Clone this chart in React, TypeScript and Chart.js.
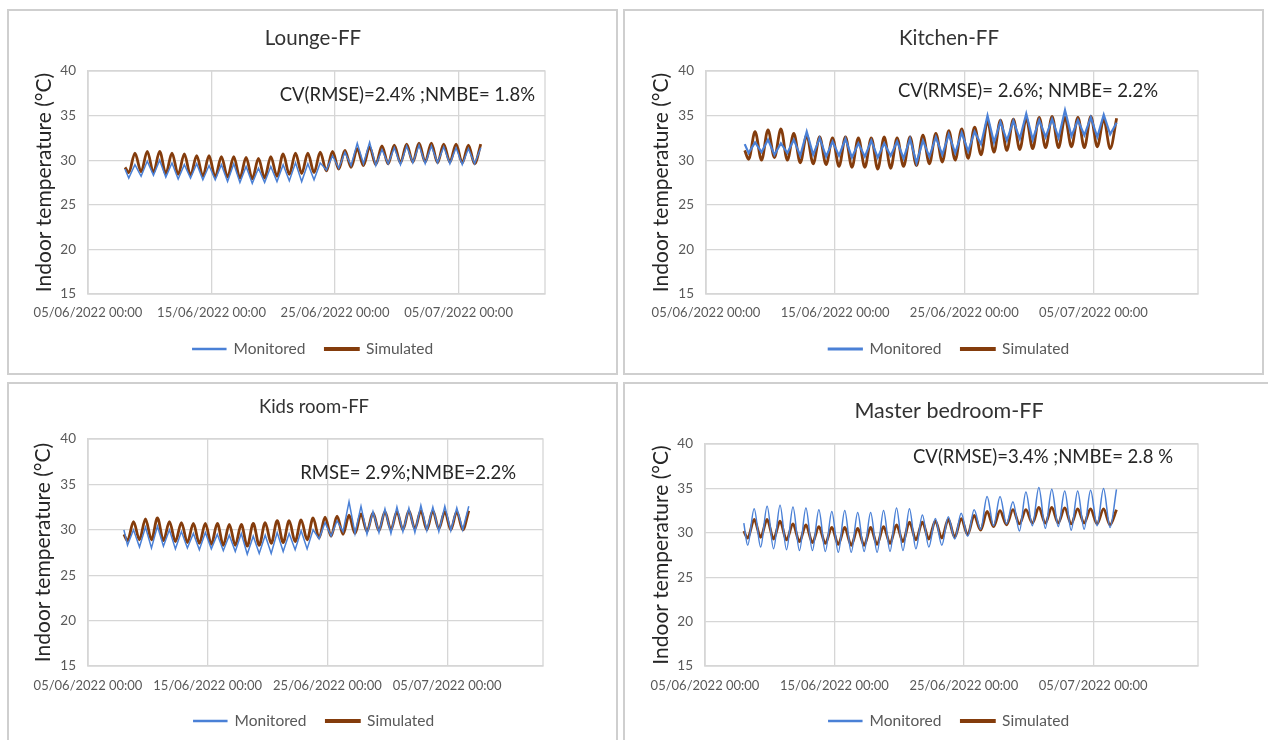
import React, { useEffect, useRef } from "react";
import { Chart, registerables } from "chart.js";

Chart.register(...registerables);

// ---------- shared axis data ----------
const xTickDays = [0, 10, 20, 30];
const xTickLabels = ["05/06/2022 00:00", "15/06/2022 00:00", "25/06/2022 00:00", "05/07/2022 00:00"];
const yTicks = [15, 20, 25, 30, 35, 40];
const firstDay = 3; // 08/06/2022, days since 05/06/2022
const troughHour = 0.3; // fraction of day of daily minimum
const peakHour = 0.8; // fraction of day of daily maximum
const seriesNames = ["Monitored", "Simulated"];

// ---------- Lounge-FF (daily minima / maxima, 08/06 .. 06/07) ----------
const loungeMonStart = 29.0;
const loungeMonMin = [28.0, 28.2, 28.3, 28.1, 27.9, 28.0, 27.8, 27.8, 27.6, 27.5, 27.4, 27.5, 27.6, 27.7, 27.6, 27.8, 28.9, 29.1, 29.4, 29.6, 29.4, 29.6, 29.5, 29.7, 29.6, 29.7, 29.6, 29.5, 29.6];
const loungeMonMax = [29.5, 29.9, 30.0, 29.7, 29.5, 29.6, 29.4, 29.5, 29.6, 29.3, 29.1, 29.3, 29.5, 29.7, 29.6, 29.7, 30.5, 30.9, 31.9, 32.0, 31.2, 31.4, 31.6, 31.7, 31.6, 31.5, 31.4, 31.3, 31.4];
const loungeSimStart = 29.2;
const loungeSimMin = [28.6, 28.7, 28.6, 28.5, 28.4, 28.3, 28.2, 28.1, 28.1, 28.0, 27.9, 28.0, 28.2, 28.4, 28.5, 28.6, 28.8, 29.0, 29.2, 29.4, 29.5, 29.6, 29.7, 29.8, 29.8, 29.7, 29.8, 29.7, 29.6];
const loungeSimMax = [30.8, 31.0, 31.0, 30.8, 30.7, 30.5, 30.5, 30.4, 30.4, 30.3, 30.2, 30.4, 30.7, 30.8, 30.8, 30.9, 31.0, 31.1, 31.3, 31.5, 31.6, 31.7, 31.8, 31.9, 31.9, 31.8, 31.8, 31.7, 31.8];

// ---------- Kitchen-FF ----------
const kitchenMonStart = 31.8;
const kitchenMonMin = [30.8, 30.9, 30.6, 30.8, 30.5, 30.6, 30.4, 30.5, 30.3, 30.4, 30.3, 30.5, 30.2, 29.7, 30.4, 30.6, 30.8, 31.0, 31.8, 32.0, 32.2, 32.4, 32.3, 32.6, 32.5, 32.7, 32.8, 32.6, 32.9];
const kitchenMonMax = [32.0, 32.3, 31.9, 32.3, 33.2, 32.5, 32.1, 32.4, 31.9, 32.2, 31.9, 32.1, 32.4, 32.2, 32.6, 32.9, 33.1, 33.2, 35.0, 34.3, 34.4, 35.2, 34.5, 34.6, 35.6, 34.5, 34.8, 35.1, 34.2];
const kitchenSimStart = 31.1;
const kitchenSimMin = [30.1, 30.0, 30.3, 30.0, 29.7, 29.6, 29.5, 29.3, 29.2, 29.2, 29.0, 29.1, 29.3, 29.4, 29.6, 29.8, 30.0, 30.2, 30.6, 30.9, 31.1, 31.2, 31.3, 31.4, 31.4, 31.5, 31.4, 31.5, 31.3];
const kitchenSimMax = [33.2, 33.4, 33.5, 33.0, 32.8, 32.6, 32.5, 32.6, 32.5, 32.5, 32.6, 32.5, 32.6, 32.8, 33.0, 33.3, 33.5, 33.7, 34.4, 34.5, 34.6, 34.7, 34.8, 34.9, 34.8, 34.8, 34.9, 34.6, 34.7];

// ---------- Kids room-FF ----------
const kidsMonStart = 30.0;
const kidsMonMin = [28.3, 28.1, 28.0, 28.2, 27.9, 28.0, 27.8, 27.9, 27.7, 27.6, 27.3, 27.4, 27.4, 27.6, 27.8, 27.9, 29.0, 29.3, 29.8, 29.6, 29.5, 29.7, 29.6, 29.8, 29.7, 29.9, 29.8, 29.9, 30.0];
const kidsMonMax = [30.0, 30.3, 30.4, 30.0, 29.8, 29.6, 29.7, 29.5, 29.4, 29.6, 29.3, 29.4, 29.7, 29.6, 29.9, 30.0, 30.8, 31.0, 33.1, 32.6, 32.0, 32.3, 32.5, 32.4, 32.7, 32.5, 32.6, 32.4, 32.6];
const kidsSimStart = 29.5;
const kidsSimMin = [28.8, 28.9, 28.9, 28.8, 28.7, 28.6, 28.5, 28.4, 28.3, 28.3, 28.2, 28.3, 28.5, 28.6, 28.7, 28.9, 29.1, 29.3, 29.5, 29.6, 29.8, 29.9, 30.0, 30.0, 30.1, 30.0, 30.1, 30.0, 30.0];
const kidsSimMax = [30.9, 31.2, 31.3, 30.9, 30.8, 30.7, 30.7, 30.7, 30.6, 30.6, 30.7, 30.8, 31.0, 31.0, 31.1, 31.3, 31.4, 31.5, 31.6, 31.75, 31.85, 32.0, 32.0, 32.1, 32.1, 32.1, 32.0, 32.0, 32.1];

// ---------- Master bedroom-FF ----------
const masterMonStart = 31.1;
const masterMonMin = [28.6, 28.4, 28.2, 28.1, 28.0, 28.0, 27.9, 27.8, 27.8, 27.9, 27.8, 27.9, 28.0, 28.2, 28.4, 28.6, 29.3, 29.6, 30.4, 30.8, 31.0, 30.2, 30.8, 30.5, 30.7, 30.3, 30.4, 30.8, 30.6];
const masterMonMax = [32.7, 33.0, 33.1, 32.9, 32.8, 32.6, 32.4, 32.5, 32.3, 32.3, 32.5, 32.8, 32.7, 32.0, 31.6, 31.8, 32.2, 32.6, 34.1, 34.1, 33.5, 34.6, 35.1, 34.9, 34.7, 34.7, 34.8, 35.0, 34.9];
const masterSimStart = 30.2;
const masterSimMin = [29.4, 29.5, 29.3, 29.2, 29.0, 28.9, 28.8, 28.7, 28.6, 28.6, 28.7, 28.8, 29.0, 29.2, 29.3, 29.4, 29.5, 29.8, 30.3, 30.7, 30.9, 31.0, 31.1, 31.1, 31.1, 31.0, 31.1, 31.0, 30.9];
const masterSimMax = [31.5, 31.5, 31.3, 31.0, 30.9, 30.7, 30.6, 30.6, 30.5, 30.6, 30.7, 30.9, 31.2, 31.2, 31.35, 31.5, 31.6, 31.95, 32.4, 32.5, 32.6, 32.6, 32.85, 32.85, 32.8, 32.7, 32.7, 32.7, 32.6];

const FONT = "Lato, 'Open Sans', sans-serif";
const BLUE = "#4a80d6";
const BROWN = "#843c0c";
const GRID = "#d6d6d6";

function buildSeries(start: number, mins: number[], maxs: number[]) {
  const pts: { x: number; y: number }[] = [{ x: firstDay, y: start }];
  for (let i = 0; i < mins.length; i++) {
    pts.push({ x: firstDay + i + troughHour, y: mins[i] });
    pts.push({ x: firstDay + i + peakHour, y: maxs[i] });
  }
  return pts;
}

type PanelCfg = {
  title: string;
  titleSize: number;
  note: string;
  mon: { x: number; y: number }[];
  sim: { x: number; y: number }[];
  monWidth: number;
  monSmooth: boolean;
  xMax: number;
  box: { x: number; y: number; w: number; h: number };
  pad: { l: number; r: number; b: number };
  yW: number;
  rW: number;
  yTitlePad: number;
  titlePad: { top: number; bottom: number };
  xH: number;
  xTickPad: number;
  noteOff: { r: number; t: number };
};

const panels: PanelCfg[] = [
  {
    title: "Lounge-FF",
    titleSize: 20.5,
    note: "CV(RMSE)=2.4% ;NMBE= 1.8%",
    mon: buildSeries(loungeMonStart, loungeMonMin, loungeMonMax),
    sim: buildSeries(loungeSimStart, loungeSimMin, loungeSimMax),
    monWidth: 1.5,
    monSmooth: false,
    xMax: 37,
    box: { x: 7, y: 9, w: 611, h: 366 },
    pad: { l: 1, r: 0, b: 6.25 },
    yW: 78,
    rW: 71,
    yTitlePad: 21.4,
    titlePad: { top: 14.7, bottom: 20.7 },
    xH: 27.25,
    xTickPad: 11,
    noteOff: { r: 10, t: 24 },
  },
  {
    title: "Kitchen-FF",
    titleSize: 20.5,
    note: "CV(RMSE)= 2.6%; NMBE= 2.2%",
    mon: buildSeries(kitchenMonStart, kitchenMonMin, kitchenMonMax),
    sim: buildSeries(kitchenSimStart, kitchenSimMin, kitchenSimMax),
    monWidth: 2.2,
    monSmooth: false,
    xMax: 38.1,
    box: { x: 623, y: 9, w: 641, h: 366 },
    pad: { l: 11, r: 0, b: 6.25 },
    yW: 70,
    rW: 64,
    yTitlePad: 12.4,
    titlePad: { top: 14.7, bottom: 20.7 },
    xH: 27.25,
    xTickPad: 11,
    noteOff: { r: 40, t: 20 },
  },
  {
    title: "Kids room-FF",
    titleSize: 18.5,
    note: "RMSE= 2.9%;NMBE=2.2%",
    mon: buildSeries(kidsMonStart, kidsMonMin, kidsMonMax),
    sim: buildSeries(kidsSimStart, kidsSimMin, kidsSimMax),
    monWidth: 1.5,
    monSmooth: false,
    xMax: 38,
    box: { x: 7, y: 382, w: 611, h: 362 },
    pad: { l: 3, r: 0, b: 3.25 },
    yW: 76,
    rW: 73,
    yTitlePad: 18.9,
    titlePad: { top: 11.9, bottom: 20.9 },
    xH: 27.25,
    xTickPad: 12,
    noteOff: { r: 27, t: 34 },
  },
  {
    title: "Master bedroom-FF",
    titleSize: 21.5,
    note: "CV(RMSE)=3.4% ;NMBE= 2.8 %",
    mon: buildSeries(masterMonStart, masterMonMin, masterMonMax),
    sim: buildSeries(masterSimStart, masterSimMin, masterSimMax),
    monWidth: 1.5,
    monSmooth: true,
    xMax: 38.1,
    box: { x: 623, y: 382, w: 650, h: 362 },
    pad: { l: 2, r: 0, b: 3.25 },
    yW: 78,
    rW: 73,
    yTitlePad: 21.4,
    titlePad: { top: 14.1, bottom: 20.1 },
    xH: 27.25,
    xTickPad: 12,
    noteOff: { r: 25, t: 13 },
  },
];

function Panel({ cfg }: { cfg: PanelCfg }) {
  const ref = useRef<HTMLCanvasElement | null>(null);
  const cw = cfg.box.w - 4;
  const ch = cfg.box.h - 4;
  useEffect(() => {
    if (!ref.current) return;
    const framePlugin = {
      id: "frameAndNote",
      beforeDatasetsDraw(chart: any) {
        const { ctx, chartArea } = chart;
        ctx.save();
        ctx.strokeStyle = GRID;
        ctx.lineWidth = 1.3;
        ctx.strokeRect(chartArea.left, chartArea.top, chartArea.right - chartArea.left, chartArea.bottom - chartArea.top);
        ctx.restore();
      },
      afterDatasetsDraw(chart: any) {
        const { ctx, chartArea } = chart;
        ctx.save();
        ctx.font = `18.5px ${FONT}`;
        ctx.fillStyle = "#262626";
        ctx.textAlign = "right";
        ctx.textBaseline = "middle";
        ctx.fillText(cfg.note, chartArea.right - cfg.noteOff.r, chartArea.top + cfg.noteOff.t);
        ctx.restore();
      },
    };
    const monDataset: any = {
      label: seriesNames[0],
      data: cfg.mon,
      borderColor: BLUE,
      backgroundColor: BLUE,
      borderWidth: cfg.monWidth,
      pointRadius: 0,
      tension: 0,
      yAxisID: "y",
    };
    if (cfg.monSmooth) monDataset.cubicInterpolationMode = "monotone";
    const chart = new Chart(ref.current, {
      type: "line",
      data: {
        datasets: [
          monDataset,
          {
            label: seriesNames[1],
            data: cfg.sim,
            borderColor: BROWN,
            backgroundColor: BROWN,
            borderWidth: 2.8,
            pointRadius: 0,
            cubicInterpolationMode: "monotone",
            yAxisID: "y",
          },
        ],
      },
      options: {
        responsive: false,
        animation: false,
        devicePixelRatio: 1,
        layout: { padding: { top: 0, left: cfg.pad.l, right: cfg.pad.r, bottom: cfg.pad.b } },
        plugins: {
          title: {
            display: true,
            text: cfg.title,
            color: "#333333",
            font: { family: FONT, size: cfg.titleSize, weight: "normal" },
            padding: { top: cfg.titlePad.top, bottom: cfg.titlePad.bottom },
          },
          legend: {
            display: true,
            position: "bottom",
            labels: {
              color: "#595959",
              font: { family: FONT, size: 15.5 },
              boxWidth: 33,
              boxHeight: 1,
              padding: 20,
            },
          },
          tooltip: { enabled: false },
        },
        scales: {
          x: {
            type: "linear",
            min: 0,
            max: cfg.xMax,
            afterBuildTicks: (scale: any) => {
              scale.ticks = xTickDays.map((v) => ({ value: v }));
            },
            afterFit: (scale: any) => {
              scale.height = cfg.xH;
            },
            ticks: {
              autoSkip: false,
              maxRotation: 0,
              padding: cfg.xTickPad,
              color: "#595959",
              font: { family: FONT, size: 13 },
              callback: (v: any) => {
                const i = xTickDays.indexOf(Number(v));
                return i >= 0 ? xTickLabels[i] : "";
              },
            },
            grid: { color: GRID, lineWidth: 1.3, drawTicks: false },
            border: { color: GRID, width: 1.3 },
          },
          y: {
            type: "linear",
            position: "left",
            min: 15,
            max: 40,
            afterBuildTicks: (scale: any) => {
              scale.ticks = yTicks.map((v) => ({ value: v }));
            },
            afterFit: (scale: any) => {
              scale.width = cfg.yW;
            },
            ticks: {
              padding: 12,
              color: "#595959",
              font: { family: FONT, size: 13.5 },
            },
            grid: { color: GRID, lineWidth: 1.3, drawTicks: false },
            border: { color: GRID, width: 1.3 },
            title: {
              display: true,
              text: "Indoor temperature (°C)",
              color: "#262626",
              font: { family: FONT, size: 21 },
              padding: { top: cfg.yTitlePad, bottom: 0 },
            },
          },
          yR: {
            type: "linear",
            position: "right",
            display: true,
            afterFit: (scale: any) => {
              scale.width = cfg.rW;
            },
            ticks: { display: false },
            grid: { display: false },
            border: { display: false },
          },
        },
      } as any,
      plugins: [framePlugin],
    });
    return () => chart.destroy();
  }, []);
  return (
    <div
      style={{
        position: "absolute",
        left: cfg.box.x,
        top: cfg.box.y,
        width: cfg.box.w,
        height: cfg.box.h,
        border: "2px solid #cfcfcf",
        boxSizing: "border-box",
        background: "#fff",
      }}
    >
      <canvas ref={ref} width={cw} height={ch} style={{ display: "block", width: cw, height: ch }} />
    </div>
  );
}

export default function App() {
  return (
    <div style={{ position: "absolute", left: 0, top: 0, width: 1268, height: 740, overflow: "hidden", background: "#fff" }}>
      {panels.map((p) => (
        <Panel key={p.title} cfg={p} />
      ))}
    </div>
  );
}
